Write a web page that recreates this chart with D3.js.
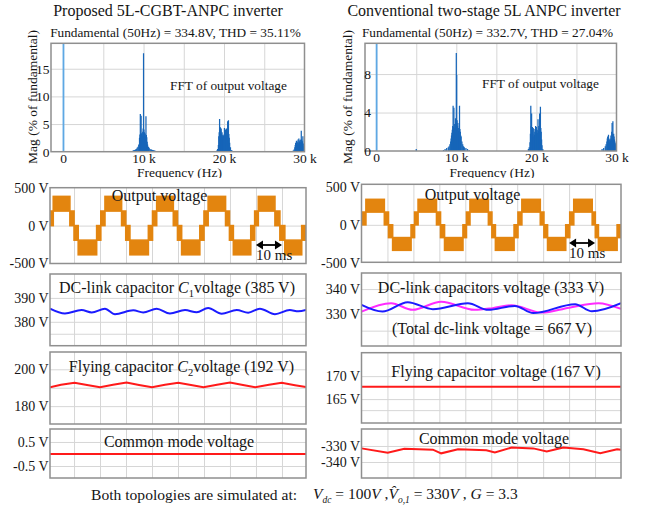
<!DOCTYPE html>
<html>
<head>
<meta charset="utf-8">
<script src="https://cdn.jsdelivr.net/npm/d3@7"></script>
<style>
body { margin:0; background:#fff; }
text { font-family: "Liberation Serif", "Times New Roman", serif; fill:#151515; }
</style>
</head>
<body>
<div id="fig"></div>
<script>

///////////////////////////////////////////////////////////////
// data
///////////////////////////////////////////////////////////////

// FFT lines [kHz, % of fundamental]
const fftLeftLines = [[0.05,100],
  [8.7,0.2],[8.8,0.3],[8.9,0.3],[9.0,0.4],[9.1,0.5],[9.2,0.7],[9.3,0.9],[9.4,1.3],[9.5,2.5],[9.55,3.1],
  [9.6,6.8],[9.65,3.3],[9.7,6.5],[9.75,3.2],[9.8,3.4],[9.85,2.9],[9.9,3.6],[9.95,4.2],[10.0,17.8],[10.05,4.0],
  [10.1,3.5],[10.15,3.1],[10.2,3.3],[10.25,2.8],[10.3,6.4],[10.35,3.0],[10.4,2.6],[10.45,1.8],[10.5,1.3],[10.6,0.9],
  [10.7,0.7],[10.8,0.5],[10.9,0.4],[11.0,0.4],[11.1,0.3],[11.2,0.3],[11.3,0.2],[11.4,0.2],[11.5,0.1],
  [19.1,0.2],[19.2,0.5],[19.3,1.2],[19.35,2.8],[19.4,3.5],[19.45,5.9],[19.5,3.7],[19.55,4.4],[19.6,3.8],[19.65,4.2],
  [19.7,3.3],[19.75,3.5],[19.8,2.8],[19.85,3.0],[19.9,2.4],[19.95,2.9],[20.0,3.1],[20.05,4.3],[20.1,3.2],[20.15,3.6],
  [20.2,4.0],[20.25,3.4],[20.3,4.2],[20.35,3.8],[20.4,3.6],[20.45,5.5],[20.5,3.5],[20.55,5.7],[20.6,3.2],[20.65,2.5],
  [20.7,1.6],[20.8,0.8],[20.9,0.3],[21.0,0.2],
  [28.6,0.2],[28.7,0.4],[28.8,0.8],[28.85,1.2],[28.9,1.6],[28.95,1.4],[29.0,2.0],[29.05,1.9],[29.1,1.3],[29.15,1.7],
  [29.2,2.2],[29.25,1.5],[29.3,2.4],[29.35,1.6],[29.4,1.9],[29.45,2.1],[29.5,1.7],[29.55,2.2],[29.6,3.8],[29.65,2.2],
  [29.7,1.5],[29.75,1.9],[29.8,2.8],[29.85,1.5],[29.9,1.0],[29.95,0.8]];

const fftRightLines = [[0.05,100],[5.0,0.2],
  [8.4,0.1],[8.6,0.2],[8.8,0.3],[9.0,0.4],[9.1,0.5],[9.2,0.7],[9.3,1.0],[9.35,1.3],[9.4,1.6],[9.45,1.9],
  [9.5,2.2],[9.55,2.6],[9.6,4.7],[9.65,2.5],[9.7,4.5],[9.75,2.4],[9.8,2.8],[9.85,2.2],[9.9,3.4],[9.95,2.9],
  [10.0,10.2],[10.05,7.9],[10.1,3.2],[10.15,2.6],[10.2,2.9],[10.25,2.1],[10.3,2.4],[10.35,2.0],[10.4,4.7],[10.45,2.3],
  [10.5,2.0],[10.55,1.6],[10.6,1.5],[10.7,1.0],[10.8,0.7],[10.9,0.5],[11.0,0.4],[11.2,0.3],[11.4,0.2],[11.6,0.1],
  [19.0,0.2],[19.1,0.4],[19.2,0.9],[19.25,1.8],[19.3,4.7],[19.35,2.6],[19.4,3.9],[19.45,2.2],[19.5,2.5],[19.55,1.8],
  [19.6,2.4],[19.65,1.5],[19.7,2.3],[19.75,1.7],[19.8,2.0],[19.85,1.6],[19.9,2.6],[19.95,2.0],[20.0,2.5],[20.05,1.8],
  [20.1,2.2],[20.15,1.9],[20.2,3.3],[20.25,2.1],[20.3,2.6],[20.35,2.4],[20.4,3.9],[20.45,2.2],[20.5,4.6],[20.55,2.4],
  [20.6,2.0],[20.65,1.2],[20.7,0.6],[20.8,0.2],
  [28.2,0.2],[28.4,0.3],[28.6,0.5],[28.7,0.7],[28.8,1.0],[28.85,1.3],[28.9,1.5],[28.95,1.1],[29.0,1.7],[29.05,1.0],
  [29.1,1.2],[29.15,0.9],[29.2,1.3],[29.25,1.1],[29.3,1.6],[29.35,1.2],[29.4,2.0],[29.45,2.9],[29.5,1.8],[29.55,3.1],
  [29.6,1.6],[29.65,1.8],[29.7,1.5],[29.75,1.2],[29.8,1.0],[29.85,0.8],[29.9,0.6],[29.95,0.4]];

// output voltage: switching band edges (ms) and which band is active
const outLeftEdges = [0.75, 2.0, 8.4, 10.0, 11.6, 18.7, 20.3, 21.9, 28.3, 29.9, 31.5, 38.6, 40.2, 41.8, 48.2, 49.8,
  51.4, 58.4, 60.0, 61.6, 68.3, 69.8, 71.3, 78.0, 79.5, 80.9, 87.3, 89.2, 91.1, 97.6, 99.25];
const outRightEdges = [0, 1.7, 8.8, 10.4, 12.0, 19.1, 20.45, 21.8, 28.9, 30.45, 32.0, 39.1, 40.45, 41.8, 48.9, 50.25,
  51.6, 58.8, 60.3, 61.8, 68.9, 70.3, 71.7, 78.7, 80.25, 81.8, 88.9, 90.1, 91.3, 98.5, 100];
const outBands = [1, 2, 1, -1, -2, -1, 1, 2, 1, -1, -2, -1, 1, 2, 1, -1, -2, -1, 1, 2, 1, -1, -2, -1, 1, 2, 1, -1, -2, -1];
const outLeftLevels = [0, 192, 385];
const outRightLevels = [0, 167, 333];

// capacitor voltages
const c1LeftT = [0.75, 6.5, 12.9, 16.8, 21.9, 25.75, 32.8, 36.6, 41.8, 46.9, 52.7, 57.2, 61.6, 66.8, 72.6, 77.0, 81.5, 87.3, 93.0, 96.3, 99.25];
const c1LeftV = [385.5, 383.5, 384.9, 383.9, 385.5, 383.2, 384.8, 383.9, 385.5, 383.5, 384.9, 384.0, 385.8, 383.4, 384.9, 383.8, 385.5, 383.2, 384.9, 384.4, 385.0];

const dcBlueT = [0, 8.1, 17.8, 27.5, 41.0, 48.8, 59.1, 66.2, 82.3, 88.8, 100];
const dcBlueV = [333.6, 330.9, 334.7, 331.9, 334.3, 331.6, 333.2, 330.3, 333.9, 331.0, 334.3];
const dcMagT = [0, 11.4, 19.7, 30.7, 43.6, 50.5, 57.8, 69.4, 80, 91.3, 100];
const dcMagV = [330.9, 334.3, 331.6, 334.9, 331.6, 332.3, 333.5, 330.5, 332.5, 334.3, 332.0];

const c2LeftT = [0.75, 5, 10.2, 15, 20.0, 25, 30.2, 35, 40.0, 45, 50.1, 55, 59.8, 65, 70.0, 75, 79.7, 85, 89.9, 95, 99.25];
const c2LeftV = [190.3, 191.6, 192.7, 191.5, 190.2, 191.6, 192.8, 191.5, 190.2, 191.6, 192.7, 191.5, 190.3, 191.6, 192.8, 191.5, 190.3, 191.6, 192.7, 191.4, 190.4];
const flyRightT = [0, 100];
const flyRightV = [167.7, 167.7];

const cmLeftT = [0.75, 99.25];
const cmLeftV = [0, 0];
const cmRightT = [0, 10.1, 16.5, 27.5, 30.7, 37.2, 48.1, 51.4, 57.8, 66.2, 71.4, 77.8, 85.5, 92.0, 98.5, 100];
const cmRightV = [-331.5, -334.2, -331.7, -332.3, -334.6, -332.1, -332.7, -334.0, -331.0, -331.5, -333.5, -331.0, -332.0, -334.6, -332.1, -332.3];

const scopeGridT = [10, 20, 30, 40, 50, 60, 70, 80, 90];

///////////////////////////////////////////////////////////////

var svg = d3.select("#fig").append("svg")
  .attr("width", 649)
  .attr("height", 510);
svg.append("rect").attr("width", 649).attr("height", 510).attr("fill", "#fff");

var clipN = 0;

// one plot box with grid, returns scales
function makePanel(p) {
  var x = d3.scaleLinear().domain(p.xdom).range([p.x0, p.x1]);
  var y = d3.scaleLinear().domain(p.ydom).range([p.y1, p.y0]);
  var g = svg.append("g");
  var id = "clip" + (clipN++);
  svg.append("clipPath").attr("id", id).append("rect")
    .attr("x", p.x0).attr("y", p.y0)
    .attr("width", p.x1 - p.x0).attr("height", p.y1 - p.y0);

  g.append("g")
    .attr("transform", "translate(0," + p.y1 + ")")
    .call(d3.axisBottom(x).tickValues(p.xgrid).tickSize(-(p.y1 - p.y0)).tickFormat(""))
    .call(a => a.select(".domain").remove())
    .selectAll("line").attr("stroke", "#d6d6d6");
  g.append("g")
    .attr("transform", "translate(" + p.x0 + ",0)")
    .call(d3.axisLeft(y).tickValues(p.ygrid).tickSize(-(p.x1 - p.x0)).tickFormat(""))
    .call(a => a.select(".domain").remove())
    .selectAll("line").attr("stroke", "#d6d6d6");

  var plot = g.append("g").attr("clip-path", "url(#" + id + ")");
  return {x: x, y: y, g: g, plot: plot, p: p};
}

function frame(P) {
  var p = P.p;
  P.g.append("rect")
    .attr("x", p.x0).attr("y", p.y0)
    .attr("width", p.x1 - p.x0).attr("height", p.y1 - p.y0)
    .attr("fill", "none")
    .attr("stroke", "#8f8f8f")
    .attr("stroke-width", 1.5);
}

function yLabels(P, vals, fmt, pad, size) {
  P.g.append("g")
    .attr("transform", "translate(" + P.p.x0 + ",0)")
    .call(d3.axisLeft(P.y).tickValues(vals).tickSize(0).tickPadding(pad).tickFormat(fmt))
    .call(a => a.select(".domain").remove())
    .selectAll("text")
    .attr("font-family", "Liberation Serif, Times New Roman, serif")
    .attr("font-size", size)
    .attr("fill", "#151515");
}

function addText(txt, x, y, size, anchor) {
  return svg.append("text")
    .attr("x", x).attr("y", y)
    .attr("font-size", size)
    .attr("text-anchor", anchor || "middle")
    .text(txt);
}

function drawLine(P, T, V, color, curve) {
  var line = d3.line()
    .x((d, i) => P.x(T[i]))
    .y(d => P.y(d))
    .curve(curve || d3.curveLinear);
  P.plot.append("path")
    .datum(V)
    .attr("d", line)
    .attr("fill", "none")
    .attr("stroke", color)
    .attr("stroke-width", 2);
}

///////////////////////////////////////////////////////////////
///////////// FFT panels //////////////////////////////////////
///////////////////////////////////////////////////////////////
function renderFFT(cfg) {
  var P = makePanel(cfg);
  P.plot.selectAll("line.spec")
    .data(cfg.lines).enter().append("line")
    .attr("x1", d => P.x(d[0])).attr("x2", d => P.x(d[0]))
    .attr("y1", P.y(0)).attr("y2", d => P.y(d[1]))
    .attr("stroke", d => d[0] < 1 ? "#5ea8e4" : "#1766b9")
    .attr("stroke-width", d => d[0] < 1 ? 1.8 : 1.25);
  frame(P);

  P.g.append("g")
    .attr("transform", "translate(0," + cfg.y1 + ")")
    .call(d3.axisBottom(P.x).tickValues([0, 10, 20, 30]).tickSize(0).tickPadding(1.5)
      .tickFormat(d => d === 0 ? "0" : d + " k"))
    .call(a => a.select(".domain").remove())
    .selectAll("text")
    .attr("font-family", "Liberation Serif, Times New Roman, serif")
    .attr("font-size", 13.5).attr("fill", "#151515");
  yLabels(P, cfg.yticks, d => d, cfg.ypad, 13.5);

  svg.append("text")
    .attr("transform", "translate(" + cfg.ylabX + "," + 97 + ") rotate(-90)")
    .attr("text-anchor", "middle")
    .attr("font-size", 13.5)
    .text("Mag (% of fundamental)");
  addText(cfg.fund, cfg.fundX, 37, 13.3);
  addText("FFT of output voltage", cfg.noteX, cfg.noteY, 13.3, "start");
  addText("Frequency (Hz)", cfg.xlabX, 177, 13.5).attr("clip-path", "url(#topclip)");
}

svg.append("clipPath").attr("id", "topclip").append("rect")
  .attr("x", 0).attr("y", 0).attr("width", 649).attr("height", 178);

addText("Proposed 5L-CGBT-ANPC inverter", 168, 16, 16);
addText("Conventional two-stage 5L ANPC inverter", 484, 16, 16);

renderFFT({x0: 51, x1: 304.5, y0: 43.3, y1: 151.7, xdom: [-1.5, 30], ydom: [0, 19.6],
  xgrid: [0, 5, 10, 15, 20, 25], ygrid: [5, 10, 15], yticks: [0, 5, 10, 15], ypad: 1.5,
  lines: fftLeftLines, ylabX: 37, fund: "Fundamental (50Hz) = 334.8V, THD = 35.11%", fundX: 175.5,
  noteX: 170, noteY: 90, xlabX: 179.5});
renderFFT({x0: 365, x1: 616.5, y0: 43.3, y1: 151, xdom: [-1.4, 30], ydom: [0, 11.2],
  xgrid: [0, 5, 10, 15, 20, 25], ygrid: [4, 8], yticks: [0, 4, 8], ypad: -6,
  lines: fftRightLines, ylabX: 352, fund: "Fundamental (50Hz) = 332.7V, THD = 27.04%", fundX: 487.5,
  noteX: 482, noteY: 88, xlabX: 492});

///////////////////////////////////////////////////////////////
///////////// Output voltage //////////////////////////////////
///////////////////////////////////////////////////////////////
function renderOutput(cfg) {
  var P = makePanel(cfg);
  var segs = cfg.bands.map((b, i) => ({t0: cfg.edges[i], t1: cfg.edges[i + 1], b: b}));
  var lev = cfg.levels;
  function lohi(b) {
    var s = b > 0 ? 1 : -1, k = Math.abs(b);
    return [s * lev[k - 1], s * lev[k]];
  }
  P.plot.selectAll("rect.band")
    .data(segs).enter().append("rect")
    .attr("x", d => P.x(d.t0))
    .attr("width", d => P.x(d.t1) - P.x(d.t0))
    .attr("y", d => P.y(d3.max(lohi(d.b))))
    .attr("height", d => P.y(d3.min(lohi(d.b))) - P.y(d3.max(lohi(d.b))))
    .attr("fill", "#e3850f")
    .attr("stroke", "#e3850f")
    .attr("stroke-width", 1.6);
  frame(P);
  yLabels(P, [-500, 0, 500], d => d + " V", 1.5, 14);
  addText("Output voltage", cfg.titleX, cfg.titleY, 16);

  // 10 ms marker
  var ax0 = P.x(80), ax1 = P.x(90), ay = cfg.arrowY;
  svg.append("line").attr("x1", ax0 + 4).attr("x2", ax1 - 4).attr("y1", ay).attr("y2", ay)
    .attr("stroke", "#000").attr("stroke-width", 1.8);
  svg.append("path")
    .attr("d", "M" + ax0 + "," + ay + "l7,-4.5v9z M" + ax1 + "," + ay + "l-7,-4.5v9z")
    .attr("fill", "#000");
  addText("10 ms", ax0, cfg.arrowY + 15, 15, "start");
}

renderOutput({x0: 50, x1: 306, y0: 187.7, y1: 263.5, xdom: [0.75, 99.25], ydom: [-500, 500],
  xgrid: scopeGridT, ygrid: [0], edges: outLeftEdges, bands: outBands, levels: outLeftLevels,
  titleX: 159.5, titleY: 201, arrowY: 245});
renderOutput({x0: 361.5, x1: 621, y0: 184.3, y1: 262.3, xdom: [0, 100], ydom: [-490, 530],
  xgrid: scopeGridT, ygrid: [0], edges: outRightEdges, bands: outBands, levels: outRightLevels,
  titleX: 472.5, titleY: 199.5, arrowY: 243});

///////////////////////////////////////////////////////////////
///////////// Capacitor and common mode panels ////////////////
///////////////////////////////////////////////////////////////
var L = {x0: 50, x1: 306, xdom: [0.75, 99.25], xgrid: scopeGridT};
var R = {x0: 361.5, x1: 621, xdom: [0, 100], xgrid: scopeGridT};

var dcL = makePanel(Object.assign({}, L, {y0: 274, y1: 345.7, ydom: [370, 400], ygrid: [375, 380, 390]}));
drawLine(dcL, c1LeftT, c1LeftV, "#1b1bff", d3.curveMonotoneX);
frame(dcL);
yLabels(dcL, [380, 390], d => d + " V", 1.5, 14);

var dcR = makePanel(Object.assign({}, R, {y0: 273, y1: 346, ydom: [317, 346.5], ygrid: [323.2, 330, 340]}));
drawLine(dcR, dcMagT, dcMagV, "#ff2bff", d3.curveMonotoneX);
drawLine(dcR, dcBlueT, dcBlueV, "#1b1bff", d3.curveMonotoneX);
frame(dcR);
yLabels(dcR, [330, 340], d => d + " V", 1.5, 14);

var flyL = makePanel(Object.assign({}, L, {y0: 352, y1: 424, ydom: [170.3, 209.4], ygrid: [180, 190, 200]}));
drawLine(flyL, c2LeftT, c2LeftV, "#ff1a1a");
frame(flyL);
yLabels(flyL, [180, 200], d => d + " V", 1.5, 14);

var flyR = makePanel(Object.assign({}, R, {y0: 352.7, y1: 423, ydom: [159.8, 175.1], ygrid: [162.6, 165, 170]}));
drawLine(flyR, flyRightT, flyRightV, "#ff1a1a");
frame(flyR);
yLabels(flyR, [165, 170], d => d + " V", 1.5, 14);

var cmL = makePanel(Object.assign({}, L, {y0: 429, y1: 478, ydom: [-1.0, 1.04], ygrid: [-0.5, 0, 0.5]}));
drawLine(cmL, cmLeftT, cmLeftV, "#ff1a1a");
frame(cmL);
yLabels(cmL, [-0.5, 0.5], d => d + " V", 1.5, 14);

var cmR = makePanel(Object.assign({}, R, {y0: 429, y1: 478, ydom: [-350, -319.4], ygrid: [-340, -330]}));
drawLine(cmR, cmRightT, cmRightV, "#ff1a1a");
frame(cmR);
yLabels(cmR, [-340, -330], d => d + " V", 1.5, 14);

// panel titles with subscripts
function capTitle(x, y, pre, sub, post) {
  var t = svg.append("text").attr("x", x).attr("y", y).attr("font-size", 16).attr("text-anchor", "middle");
  t.append("tspan").text(pre);
  t.append("tspan").attr("font-style", "italic").text("C");
  t.append("tspan").attr("font-size", 10.5).attr("dy", 3.5).text(sub);
  t.append("tspan").attr("dy", -3.5).text(post);
}
capTitle(177, 293, "DC-link capacitor ", "1", "voltage (385 V)");
capTitle(181.5, 372, "Flying capacitor ", "2", "voltage (192 V)");
addText("DC-link capacitors voltage (333 V)", 491, 293, 16);
addText("(Total dc-link voltage = 667 V)", 492, 333.5, 16);
addText("Flying capacitor voltage (167 V)", 496, 377, 16);
addText("Common mode voltage", 179, 447, 16);
addText("Common mode voltage", 494, 444, 16);

// bottom note
addText("Both topologies are simulated at:", 91, 500, 15.6, "start");
var eq = svg.append("text").attr("x", 313).attr("y", 499).attr("font-size", 15.5);
eq.append("tspan").attr("font-style", "italic").text("V");
eq.append("tspan").attr("font-style", "italic").attr("font-size", 9.5).attr("dy", 3.5).text("dc");
eq.append("tspan").attr("dy", -3.5).text(" = 100");
eq.append("tspan").attr("font-style", "italic").text("V");
eq.append("tspan").text(" ,");
eq.append("tspan").attr("font-style", "italic").text("V\u0302");
eq.append("tspan").attr("font-style", "italic").attr("font-size", 9.5).attr("dy", 3.5).text("o,1");
eq.append("tspan").attr("dy", -3.5).text(" = 330");
eq.append("tspan").attr("font-style", "italic").text("V");
eq.append("tspan").text(" , ");
eq.append("tspan").attr("font-style", "italic").text("G");
eq.append("tspan").text(" = 3.3");

</script>
</body>
</html>
